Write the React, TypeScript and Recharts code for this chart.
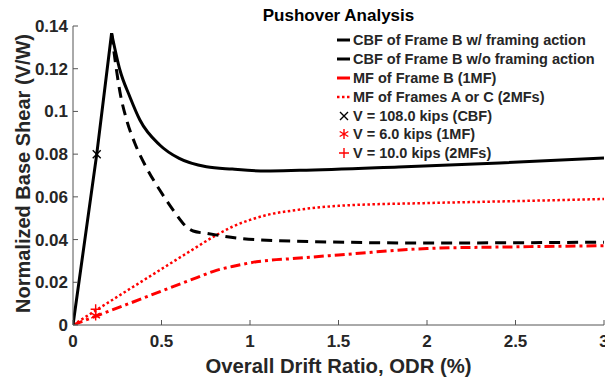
import { ComposedChart, Line, Scatter, XAxis, YAxis, Label } from "recharts";

// CBF with framing action: elastic rise, then post-peak branch
const cbfRiseX = [0, 0.134, 0.218];
const cbfRiseY = [0, 0.0799, 0.1366];
const cbfWithX = [0.218, 0.265, 0.321, 0.378, 0.49, 0.6, 0.754, 0.9, 1.09, 1.28, 1.84, 2.41, 3.0];
const cbfWithY = [0.1366, 0.1194, 0.1069, 0.096, 0.0843, 0.078, 0.0741, 0.073, 0.0721, 0.0724, 0.074, 0.0759, 0.0782];

// CBF without framing action (post-peak only)
const cbfWoX = [0.218, 0.237, 0.265, 0.303, 0.35, 0.416, 0.49, 0.566, 0.641, 0.679, 0.754, 0.942, 1.243, 2.0, 3.0];
const cbfWoY = [0.1366, 0.1245, 0.1092, 0.096, 0.085, 0.0735, 0.0632, 0.0538, 0.046, 0.044, 0.0429, 0.0406, 0.0393, 0.0384, 0.0388];

// MF of Frame B (1MF)
const mf1X = [0, 0.128, 0.3, 0.5, 0.7, 0.81, 0.9, 1.036, 1.26, 1.5, 2.0, 2.5, 3.0];
const mf1Y = [0, 0.0041, 0.0095, 0.0159, 0.0222, 0.0256, 0.0274, 0.0296, 0.0312, 0.0328, 0.0358, 0.0366, 0.0371];

// MF of Frames A or C (2MFs)
const mf2X = [0, 0.128, 0.3, 0.5, 0.66, 0.81, 0.9, 1.0, 1.1, 1.26, 1.5, 2.0, 2.5, 3.0];
const mf2Y = [0, 0.0068, 0.0158, 0.0262, 0.0345, 0.0421, 0.046, 0.0492, 0.0516, 0.0538, 0.0558, 0.0571, 0.058, 0.059];

// design base shear markers
const markCbf = { x: 0.134, y: 0.0799 };
const markMf1 = { x: 0.128, y: 0.0044 };
const markMf2 = { x: 0.128, y: 0.0074 };

const xTicks = [0, 0.5, 1, 1.5, 2, 2.5, 3];
const yTicks = [0, 0.02, 0.04, 0.06, 0.08, 0.1, 0.12, 0.14];

const legendLabels = [
  "CBF of Frame B w/ framing action",
  "CBF of Frame B w/o framing action",
  "MF of Frame B (1MF)",
  "MF of Frames A or C (2MFs)",
  "V = 108.0 kips (CBF)",
  "V = 6.0 kips (1MF)",
  "V = 10.0 kips (2MFs)",
];

const zip = (xs: number[], ys: number[]) => xs.map((x, i) => ({ x, y: ys[i] }));

const FONT = "'Liberation Sans', Arial, Helvetica, sans-serif";
const TXT = "#262626";
const AX = "#555555";
const RED = "#ff0000";

const fmt = (v: number) => String(Number(v.toFixed(2)));

const XMark = (p: any) => (
  <path
    d={`M${p.cx - 4},${p.cy - 4}L${p.cx + 4},${p.cy + 4}M${p.cx - 4},${p.cy + 4}L${p.cx + 4},${p.cy - 4}`}
    stroke="#000"
    strokeWidth={1.4}
    fill="none"
  />
);

const StarMark = (p: any) => {
  const r = 5;
  const a = r * 0.866;
  const b = r * 0.5;
  return (
    <path
      d={`M${p.cx},${p.cy - r}L${p.cx},${p.cy + r}M${p.cx - a},${p.cy - b}L${p.cx + a},${p.cy + b}M${p.cx - a},${p.cy + b}L${p.cx + a},${p.cy - b}`}
      stroke={RED}
      strokeWidth={1.4}
      fill="none"
    />
  );
};

const PlusMark = (p: any) => (
  <path
    d={`M${p.cx - 5},${p.cy}L${p.cx + 5},${p.cy}M${p.cx},${p.cy - 5}L${p.cx},${p.cy + 5}`}
    stroke={RED}
    strokeWidth={1.4}
    fill="none"
  />
);

function LegendSample({ i }: { i: number }) {
  const c = { x: 7, y: 9 };
  if (i === 0 || i === 1) return <line x1={0} x2={13} y1={9} y2={9} stroke="#000" strokeWidth={3} />;
  if (i === 2) return <line x1={0} x2={13} y1={9} y2={9} stroke={RED} strokeWidth={3} />;
  if (i === 3) return <line x1={0} x2={14} y1={9} y2={9} stroke={RED} strokeWidth={2.5} strokeDasharray="2.5 2.5" />;
  if (i === 4) return <XMark cx={c.x} cy={c.y} />;
  if (i === 5) return <StarMark cx={c.x} cy={c.y} />;
  return <PlusMark cx={c.x} cy={c.y} />;
}

function LegendBox() {
  return (
    <div
      style={{
        position: "absolute",
        left: 337,
        top: 31,
        fontFamily: FONT,
        fontWeight: "bold",
        fontSize: 14.5,
        color: TXT,
      }}
    >
      {legendLabels.map((t, i) => (
        <div key={t} style={{ display: "flex", alignItems: "center", height: 18.8, whiteSpace: "nowrap" }}>
          <svg width={15} height={18} style={{ marginRight: 1 }}>
            <LegendSample i={i} />
          </svg>
          <span>{t}</span>
        </div>
      ))}
    </div>
  );
}

const YTitle = (props: any) => {
  const vb = props.viewBox;
  const x = vb.x + 30;
  const y = vb.y + vb.height / 2 - 2;
  return (
    <text
      x={x}
      y={y}
      transform={`rotate(-90, ${x}, ${y})`}
      textAnchor="middle"
      fontFamily={FONT}
      fontWeight="bold"
      fontSize={20}
      fill={TXT}
    >
      Normalized Base Shear (V/W)
    </text>
  );
};

export default function App() {
  return (
    <div style={{ position: "absolute", left: 0, top: 0, width: 605, height: 377, background: "#fff", overflow: "hidden" }}>
      <ComposedChart
        width={605}
        height={377}
        margin={{ top: 26, right: 1, left: 0, bottom: 0 }}
        style={{ fontFamily: FONT, fontWeight: "bold" }}
      >
        <XAxis
          dataKey="x"
          type="number"
          domain={[0, 3]}
          ticks={xTicks}
          interval={0}
          height={52}
          tickFormatter={fmt}
          tickSize={-5}
          tickMargin={15}
          stroke={AX}
          tick={{ fill: TXT, fontSize: 17, fontWeight: "bold" }}
          allowDataOverflow
        >
          <Label
            value="Overall Drift Ratio, ODR (%)"
            position="insideBottom"
            offset={4}
            style={{ fill: TXT, fontSize: 20.3, fontWeight: "bold" }}
          />
        </XAxis>
        <XAxis
          xAxisId="top"
          orientation="top"
          type="number"
          domain={[0, 3]}
          ticks={xTicks}
          interval={0}
          height={0}
          tickSize={-5}
          tickFormatter={() => ""}
          stroke={AX}
          allowDataOverflow
        />
        <YAxis
          dataKey="y"
          type="number"
          domain={[0, 0.14]}
          ticks={yTicks}
          interval={0}
          width={73}
          tickFormatter={fmt}
          tickSize={-5}
          tickMargin={10}
          stroke={AX}
          tick={{ fill: TXT, fontSize: 17, fontWeight: "bold" }}
          allowDataOverflow
        >
          <Label content={YTitle} />
        </YAxis>
        <YAxis
          yAxisId="right"
          orientation="right"
          type="number"
          domain={[0, 0.14]}
          ticks={yTicks}
          interval={0}
          width={0}
          tickSize={-5}
          tickFormatter={() => ""}
          stroke={AX}
          allowDataOverflow
        />
        <Line data={zip(mf2X, mf2Y)} dataKey="y" type="monotone" stroke={RED} strokeWidth={2.5} strokeDasharray="2.5 2.5" dot={false} isAnimationActive={false} />
        <Line data={zip(mf1X, mf1Y)} dataKey="y" type="monotone" stroke={RED} strokeWidth={3} strokeDasharray="10 4 3 4" dot={false} isAnimationActive={false} />
        <Line data={zip(cbfWoX, cbfWoY)} dataKey="y" type="monotone" stroke="#000" strokeWidth={3} strokeDasharray="11 7" dot={false} isAnimationActive={false} />
        <Line data={zip(cbfRiseX, cbfRiseY)} dataKey="y" type="linear" stroke="#000" strokeWidth={3} dot={false} isAnimationActive={false} />
        <Line data={zip(cbfWithX, cbfWithY)} dataKey="y" type="monotone" stroke="#000" strokeWidth={3} dot={false} isAnimationActive={false} />
        <Scatter data={[markCbf]} dataKey="y" shape={XMark} isAnimationActive={false} />
        <Scatter data={[markMf1]} dataKey="y" shape={StarMark} isAnimationActive={false} />
        <Scatter data={[markMf2]} dataKey="y" shape={PlusMark} isAnimationActive={false} />
      </ComposedChart>
      <svg width={605} height={26} style={{ position: "absolute", left: 0, top: 0 }}>
        <text x={338.5} y={21} textAnchor="middle" fontFamily={FONT} fontWeight="bold" fontSize={17} fill="#000">
          Pushover Analysis
        </text>
      </svg>
      <LegendBox />
    </div>
  );
}
